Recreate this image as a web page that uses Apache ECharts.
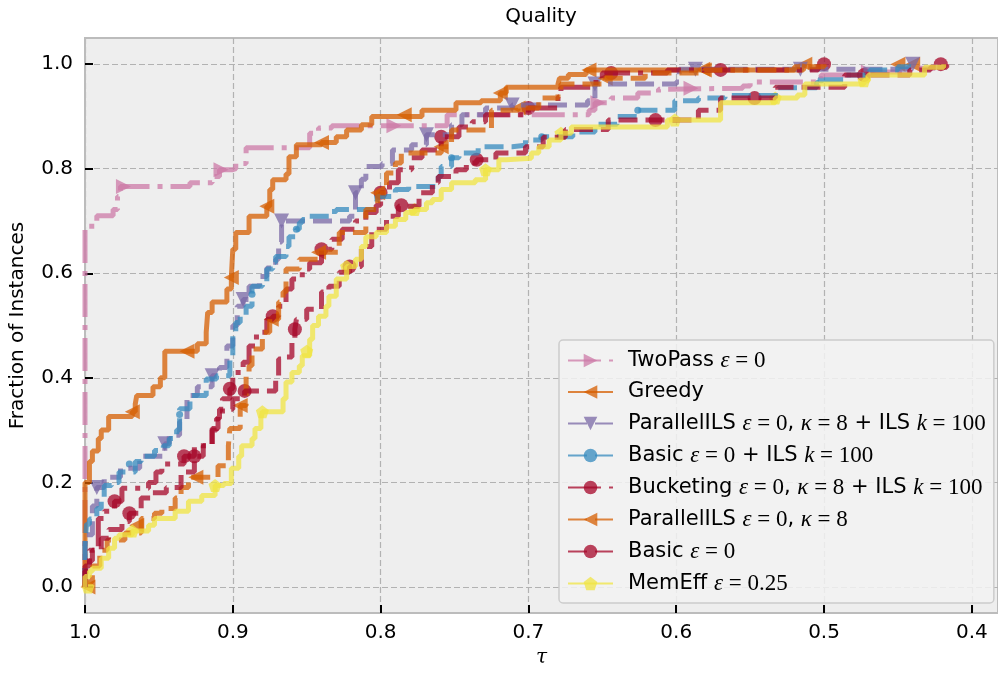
<!DOCTYPE html>
<html>
<head>
<meta charset="utf-8">
<script src="https://cdn.jsdelivr.net/npm/echarts@6/dist/echarts.min.js"></script>
<style>
  html, body { margin: 0; padding: 0; background: #fff; }
  #chart { width: 998px; height: 673px; }
</style>
</head>
<body>
<div id="chart"></div>
<script>
const seriesNames = [
  'TwoPass ε = 0',
  'Greedy',
  'ParallelILS ε = 0, κ = 8 + ILS k = 100',
  'Basic ε = 0 + ILS k = 100',
  'Bucketing ε = 0, κ = 8 + ILS k = 100',
  'ParallelILS ε = 0, κ = 8',
  'Basic ε = 0',
  'MemEff ε = 0.25'
];

const legendLabels = [
  'TwoPass {v|ε}{n| = 0}',
  'Greedy',
  'ParallelILS {v|ε}{n| = 0}, {v|κ}{n| = 8} + ILS {v|k}{n| = 100}',
  'Basic {v|ε}{n| = 0} + ILS {v|k}{n| = 100}',
  'Bucketing {v|ε}{n| = 0}, {v|κ}{n| = 8} + ILS {v|k}{n| = 100}',
  'ParallelILS {v|ε}{n| = 0}, {v|κ}{n| = 8}',
  'Basic {v|ε}{n| = 0}',
  'MemEff {v|ε}{n| = 0.25}'
];

const xTicks = [1.0, 0.9, 0.8, 0.7, 0.6, 0.5, 0.4];
const yTicks = [0.0, 0.2, 0.4, 0.6, 0.8, 1.0];

// each point: [tau, fraction reached at tau], tau descending
const twoPass = [[1,0],[1,0.69],[0.992,0.71],[0.981,0.722],[0.978,0.747],[0.976,0.766],[0.929,0.773],[0.914,0.785],[0.909,0.798],[0.900,0.80],[0.898,0.81],[0.891,0.84],[0.848,0.868],[0.842,0.878],[0.833,0.882],[0.755,0.903],[0.659,0.912],[0.655,0.926],[0.644,0.935],[0.626,0.945],[0.612,0.952],[0.605,0.954],[0.555,0.958],[0.550,0.966],[0.505,0.968],[0.502,0.979],[0.47,0.985],[0.445,0.992],[0.425,1.0]];
const greedy = [[1,0],[1,0.20],[0.997,0.24],[0.995,0.26],[0.991,0.284],[0.989,0.30],[0.984,0.326],[0.968,0.335],[0.966,0.35],[0.965,0.366],[0.954,0.383],[0.949,0.40],[0.946,0.451],[0.924,0.465],[0.918,0.487],[0.917,0.525],[0.914,0.545],[0.904,0.57],[0.901,0.592],[0.900,0.646],[0.898,0.678],[0.889,0.709],[0.877,0.728],[0.875,0.76],[0.873,0.779],[0.864,0.79],[0.862,0.823],[0.857,0.846],[0.840,0.85],[0.830,0.861],[0.823,0.874],[0.813,0.884],[0.806,0.90],[0.772,0.912],[0.749,0.926],[0.732,0.93],[0.719,0.945],[0.715,0.956],[0.680,0.962],[0.679,0.973],[0.673,0.98],[0.661,0.989],[0.514,0.99],[0.513,1.0]];
const parIls = [[1,0],[1,0.10],[0.995,0.155],[0.992,0.19],[0.987,0.21],[0.976,0.227],[0.963,0.25],[0.946,0.274],[0.943,0.29],[0.936,0.316],[0.931,0.366],[0.924,0.383],[0.914,0.404],[0.909,0.42],[0.904,0.461],[0.900,0.50],[0.897,0.537],[0.893,0.55],[0.889,0.575],[0.882,0.594],[0.877,0.61],[0.871,0.627],[0.869,0.66],[0.867,0.70],[0.821,0.709],[0.817,0.754],[0.813,0.78],[0.810,0.804],[0.799,0.81],[0.792,0.836],[0.779,0.846],[0.769,0.865],[0.752,0.884],[0.745,0.903],[0.729,0.916],[0.711,0.922],[0.660,0.93],[0.655,0.962],[0.600,0.966],[0.598,0.99],[0.45,0.99],[0.44,1.0]];
const basicIls = [[1,0],[1,0.08],[0.999,0.12],[0.997,0.13],[0.992,0.15],[0.989,0.17],[0.987,0.194],[0.982,0.20],[0.977,0.22],[0.966,0.24],[0.962,0.25],[0.953,0.261],[0.947,0.27],[0.943,0.284],[0.938,0.30],[0.936,0.341],[0.929,0.366],[0.918,0.398],[0.911,0.404],[0.902,0.44],[0.900,0.487],[0.898,0.506],[0.895,0.518],[0.891,0.537],[0.887,0.575],[0.880,0.583],[0.877,0.608],[0.873,0.621],[0.871,0.632],[0.864,0.651],[0.862,0.67],[0.857,0.684],[0.855,0.697],[0.853,0.703],[0.848,0.709],[0.835,0.718],[0.830,0.722],[0.803,0.73],[0.802,0.747],[0.790,0.76],[0.781,0.766],[0.761,0.785],[0.759,0.804],[0.752,0.821],[0.747,0.83],[0.734,0.842],[0.711,0.845],[0.702,0.855],[0.691,0.861],[0.67,0.87],[0.655,0.885],[0.64,0.90],[0.626,0.912],[0.601,0.93],[0.585,0.935],[0.567,0.94],[0.531,0.955],[0.505,0.965],[0.502,0.97],[0.486,0.979],[0.469,0.989],[0.45,0.995],[0.44,1.0]];
const bucketIls = [[1,0],[1,0.04],[0.997,0.07],[0.991,0.131],[0.987,0.145],[0.980,0.164],[0.975,0.189],[0.957,0.20],[0.952,0.22],[0.948,0.235],[0.933,0.25],[0.926,0.27],[0.914,0.303],[0.910,0.33],[0.907,0.36],[0.902,0.379],[0.900,0.41],[0.893,0.43],[0.889,0.461],[0.884,0.487],[0.877,0.512],[0.873,0.518],[0.869,0.537],[0.864,0.57],[0.860,0.589],[0.853,0.608],[0.848,0.62],[0.840,0.646],[0.833,0.665],[0.826,0.684],[0.817,0.70],[0.810,0.716],[0.803,0.73],[0.800,0.754],[0.794,0.773],[0.788,0.798],[0.779,0.821],[0.772,0.836],[0.759,0.861],[0.747,0.88],[0.738,0.89],[0.729,0.903],[0.700,0.916],[0.680,0.937],[0.678,0.956],[0.656,0.965],[0.650,0.983],[0.606,0.989],[0.504,1.0]];
const parK8 = [[1,0],[1,0.01],[0.995,0.04],[0.99,0.07],[0.985,0.09],[0.973,0.103],[0.962,0.131],[0.953,0.141],[0.948,0.15],[0.939,0.17],[0.935,0.19],[0.930,0.21],[0.910,0.232],[0.903,0.27],[0.902,0.303],[0.895,0.347],[0.891,0.404],[0.889,0.423],[0.887,0.455],[0.880,0.487],[0.875,0.512],[0.869,0.545],[0.866,0.564],[0.864,0.608],[0.855,0.627],[0.842,0.64],[0.828,0.678],[0.810,0.722],[0.802,0.754],[0.796,0.792],[0.790,0.811],[0.786,0.83],[0.759,0.842],[0.752,0.874],[0.725,0.912],[0.707,0.916],[0.693,0.935],[0.680,0.945],[0.678,0.962],[0.648,0.973],[0.621,0.983],[0.581,0.989],[0.52,0.995],[0.50,1.0]];
const basic = [[1,0],[1,0.03],[0.997,0.05],[0.995,0.07],[0.989,0.093],[0.984,0.11],[0.975,0.125],[0.970,0.141],[0.962,0.17],[0.955,0.18],[0.945,0.19],[0.935,0.22],[0.926,0.25],[0.920,0.27],[0.914,0.30],[0.911,0.322],[0.909,0.34],[0.900,0.36],[0.892,0.375],[0.871,0.404],[0.869,0.436],[0.864,0.44],[0.860,0.469],[0.858,0.493],[0.857,0.512],[0.850,0.531],[0.840,0.564],[0.835,0.575],[0.828,0.602],[0.821,0.613],[0.813,0.651],[0.806,0.684],[0.796,0.709],[0.788,0.728],[0.774,0.754],[0.765,0.773],[0.761,0.785],[0.749,0.798],[0.742,0.811],[0.735,0.817],[0.722,0.83],[0.702,0.842],[0.69,0.86],[0.675,0.875],[0.646,0.893],[0.585,0.912],[0.570,0.935],[0.533,0.956],[0.486,0.979],[0.442,0.989],[0.428,0.994],[0.417,1.0]];
const memEff = [[1,0],[1,0.02],[0.997,0.03],[0.995,0.036],[0.989,0.055],[0.984,0.074],[0.980,0.093],[0.977,0.10],[0.968,0.107],[0.957,0.118],[0.953,0.131],[0.939,0.145],[0.930,0.164],[0.921,0.175],[0.912,0.194],[0.906,0.198],[0.901,0.227],[0.896,0.25],[0.894,0.27],[0.887,0.284],[0.885,0.303],[0.881,0.322],[0.880,0.335],[0.866,0.36],[0.864,0.392],[0.860,0.41],[0.855,0.423],[0.853,0.442],[0.848,0.474],[0.846,0.50],[0.842,0.518],[0.837,0.537],[0.835,0.556],[0.830,0.589],[0.823,0.613],[0.817,0.627],[0.813,0.651],[0.810,0.67],[0.803,0.678],[0.796,0.69],[0.790,0.703],[0.783,0.716],[0.777,0.722],[0.769,0.735],[0.765,0.741],[0.759,0.76],[0.752,0.773],[0.736,0.779],[0.729,0.798],[0.720,0.817],[0.715,0.82],[0.698,0.83],[0.693,0.842],[0.686,0.855],[0.678,0.868],[0.671,0.88],[0.606,0.893],[0.570,0.926],[0.533,0.935],[0.518,0.941],[0.513,0.962],[0.473,0.968],[0.47,0.979],[0.432,0.994],[0.419,1.0]];

// marker positions along each curve
const twoPassMarks = [[0.974,0.766],[0.908,0.798],[0.791,0.882],[0.653,0.926],[0.590,0.954],[0.47,0.985]];
const greedyMarks = [[0.968,0.335],[0.931,0.451],[0.901,0.592],[0.877,0.728],[0.840,0.85],[0.784,0.903],[0.719,0.945],[0.659,0.989],[0.582,0.99],[0.513,1.0],[0.44,1.0]];
const parIlsMarks = [[0.992,0.19],[0.946,0.274],[0.914,0.404],[0.893,0.55],[0.867,0.70],[0.817,0.754],[0.769,0.865],[0.711,0.922],[0.655,0.962],[0.587,0.99],[0.516,0.99],[0.44,1.0]];
const basicIlsMarks = [[0.97,0.235],[0.936,0.33],[0.887,0.56],[0.857,0.684],[0.802,0.747],[0.752,0.821],[0.691,0.861],[0.626,0.912],[0.502,0.97]];
const bucketIlsMarks = [[0.980,0.164],[0.933,0.25],[0.902,0.379],[0.873,0.518],[0.840,0.646],[0.800,0.754],[0.759,0.861],[0.700,0.916],[0.644,0.983],[0.570,0.989],[0.500,1.0],[0.421,1.0]];
const parK8Marks = [[0.998,0.0],[0.965,0.118],[0.925,0.21],[0.895,0.347],[0.874,0.512],[0.842,0.64],[0.802,0.754],[0.759,0.842],[0.707,0.916],[0.648,0.973],[0.581,0.989],[0.45,1.0]];
const basicMarks = [[0.970,0.141],[0.926,0.25],[0.892,0.375],[0.858,0.493],[0.821,0.613],[0.786,0.73],[0.735,0.817],[0.614,0.893],[0.547,0.935],[0.473,0.979]];
const memEffMarks = [[0.998,0.0],[0.968,0.107],[0.912,0.194],[0.880,0.335],[0.850,0.451],[0.823,0.613],[0.777,0.722],[0.729,0.798],[0.678,0.868],[0.601,0.893],[0.533,0.935],[0.473,0.968]];

const curves = [twoPass, greedy, parIls, basicIls, bucketIls, parK8, basic, memEff];
const marks = [twoPassMarks, greedyMarks, parIlsMarks, basicIlsMarks, bucketIlsMarks, parK8Marks, basicMarks, memEffMarks];

const pentagon = 'path://M50,0 L97.6,34.5 L79.4,90.5 L20.6,90.5 L2.4,34.5 Z';
const dashed = [19, 8];
const dashDot = [33, 8, 5, 8];
const styles = [
  { color: '#CC79A7', type: dashDot, symbol: 'triangle', rotate: -90, size: 15 },
  { color: '#D55E00', type: 'solid', symbol: 'triangle', rotate: 90, size: 15 },
  { color: '#7A68A6', type: dashed, symbol: 'triangle', rotate: 180, size: 15 },
  { color: '#348ABD', type: dashed, symbol: 'circle', rotate: 0, size: 7 },
  { color: '#A60628', type: dashDot, symbol: 'circle', rotate: 0, size: 14 },
  { color: '#D55E00', type: dashed, symbol: 'triangle', rotate: 90, size: 15 },
  { color: '#A60628', type: dashed, symbol: 'circle', rotate: 0, size: 14 },
  { color: '#F0E442', type: 'solid', symbol: pentagon, rotate: 0, size: 13 }
];

const font = 'DejaVu Sans';
const alpha = 0.75;

const series = [];
seriesNames.forEach((name, i) => {
  const s = styles[i];
  series.push({
    name: name,
    type: 'line',
    step: 'end',
    data: curves[i],
    showSymbol: false,
    symbol: s.symbol,
    symbolRotate: s.rotate,
    symbolSize: s.size,
    color: s.color,
    lineStyle: { width: 5, type: s.type, opacity: alpha, cap: 'butt' },
    itemStyle: { color: s.color, opacity: alpha },
    emphasis: { disabled: true }
  });
  series.push({
    name: name,
    type: 'scatter',
    data: marks[i],
    symbol: s.symbol,
    symbolRotate: s.rotate,
    symbolSize: s.size,
    itemStyle: { color: s.color, opacity: alpha },
    emphasis: { disabled: true }
  });
});

const chart = echarts.init(document.getElementById('chart'));

const frameLine = { show: true, onZero: false, lineStyle: { color: '#bcbcbc', width: 2 } };
const tickStyle = { show: true, inside: true, length: 8, lineStyle: { color: '#000', width: 2 } };

chart.setOption({
  animation: false,
  title: {
    text: 'Quality',
    left: 541,
    top: 7,
    padding: 0,
    textAlign: 'center',
    textStyle: { fontFamily: font, fontSize: 20, fontWeight: 'normal', color: '#000' }
  },
  grid: {
    left: 85, width: 916, top: 38, bottom: 58,
    show: true,
    backgroundColor: '#eeeeee',
    borderColor: '#bcbcbc',
    borderWidth: 2
  },
  legend: {
    orient: 'vertical',
    left: 559,
    top: 340,
    itemWidth: 45,
    itemHeight: 17,
    itemGap: 9,
    padding: [9, 8, 8, 8],
    backgroundColor: 'rgba(242,242,242,0.85)',
    borderColor: '#cccccc',
    borderWidth: 1.5,
    borderRadius: 4,
    data: seriesNames,
    formatter: name => legendLabels[seriesNames.indexOf(name)],
    textStyle: {
      fontFamily: font, fontSize: 21, color: '#000', lineHeight: 22, padding: [0, 0, 0, 10],
      rich: {
        v: { fontFamily: 'Liberation Serif', fontStyle: 'italic', fontSize: 23, color: '#000', lineHeight: 22 },
        n: { fontFamily: 'Liberation Serif', fontSize: 23, color: '#000', lineHeight: 22 }
      }
    }
  },
  xAxis: {
    type: 'value',
    inverse: true,
    min: 0.3823,
    max: 1.0,
    name: 'τ',
    nameLocation: 'middle',
    nameGap: 33,
    nameTextStyle: { fontFamily: 'DejaVu Serif', fontStyle: 'italic', fontSize: 20, color: '#000' },
    axisLine: frameLine,
    axisTick: Object.assign({ customValues: xTicks }, tickStyle),
    axisLabel: { customValues: xTicks, formatter: v => v.toFixed(1), margin: 10, fontFamily: font, fontSize: 20, color: '#000' },
    splitLine: { show: true, lineStyle: { color: '#b2b2b2', type: [6, 3], width: 1.2 } }
  },
  yAxis: {
    type: 'value',
    min: -0.05,
    max: 1.05,
    name: 'Fraction of Instances',
    nameLocation: 'middle',
    nameGap: 57,
    nameTextStyle: { fontFamily: font, fontSize: 20, color: '#000' },
    axisLine: frameLine,
    axisTick: Object.assign({ customValues: yTicks }, tickStyle),
    axisLabel: { customValues: yTicks, formatter: v => v.toFixed(1), margin: 12, fontFamily: font, fontSize: 20, color: '#000' },
    splitLine: { show: true, lineStyle: { color: '#b2b2b2', type: [6, 3], width: 1.2 } }
  },
  series: series
});
</script>
</body>
</html>
